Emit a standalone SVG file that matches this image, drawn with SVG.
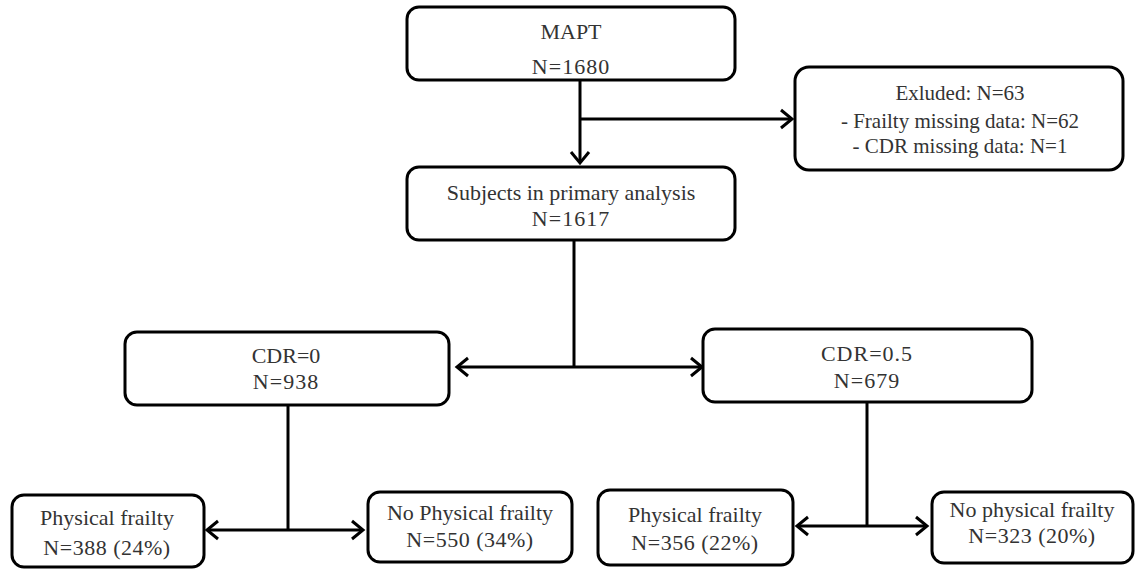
<svg xmlns="http://www.w3.org/2000/svg" width="1139" height="569" viewBox="0 0 1139 569">
<style>
.box{fill:#fff;stroke:#000;stroke-width:3}
.ln{fill:none;stroke:#000;stroke-width:3}
text{font-family:"Liberation Serif","Times New Roman",serif;font-size:22px;fill:#333;text-anchor:middle}
.sm{font-size:21px}
</style>
<defs>
<marker id="ah" markerUnits="userSpaceOnUse" markerWidth="16" markerHeight="22" refX="13" refY="11" orient="auto-start-reverse" viewBox="0 0 16 22">
<path d="M2,2 L13,11 L2,20" fill="none" stroke="#000" stroke-width="3"/>
</marker>
</defs>
<rect width="1139" height="569" fill="#fff"/>
<g id="connectors">
<path class="ln" d="M580,80 V163" marker-end="url(#ah)"/>
<path class="ln" d="M580,119 H792" marker-end="url(#ah)"/>
<path class="ln" d="M574,240 V367"/>
<path class="ln" d="M457,367 H702" marker-start="url(#ah)" marker-end="url(#ah)"/>
<path class="ln" d="M288,405 V530"/>
<path class="ln" d="M207,530 H363" marker-start="url(#ah)" marker-end="url(#ah)"/>
<path class="ln" d="M867,402 V526"/>
<path class="ln" d="M797,526 H927" marker-start="url(#ah)" marker-end="url(#ah)"/>
</g>
<g id="mapt">
<rect class="box" x="407" y="7" width="328" height="73" rx="12"/>
<text x="571" y="39">MAPT</text>
<text x="571" y="74" letter-spacing="1">N=1680</text>
</g>
<g id="excluded">
<rect class="box" x="795" y="67" width="328" height="103" rx="14"/>
<text class="sm" x="960" y="100">Exluded: N=63</text>
<text class="sm" x="960" y="128">- Frailty missing data: N=62</text>
<text class="sm" x="960" y="153">- CDR missing data: N=1</text>
</g>
<g id="subjects">
<rect class="box" x="407" y="167" width="328" height="73" rx="12"/>
<text x="571" y="200">Subjects in primary analysis</text>
<text x="571" y="226" letter-spacing="1">N=1617</text>
</g>
<g id="cdr0">
<rect class="box" x="125" y="332" width="324" height="73" rx="12"/>
<text x="286" y="363">CDR=0</text>
<text x="286" y="389" letter-spacing="1">N=938</text>
</g>
<g id="cdr05">
<rect class="box" x="703" y="329" width="329" height="73" rx="12"/>
<text x="867" y="361" letter-spacing="1">CDR=0.5</text>
<text x="867" y="388" letter-spacing="1">N=679</text>
</g>
<g id="pf-left">
<rect class="box" x="12" y="495" width="192" height="72" rx="12"/>
<text x="107" y="525">Physical frailty</text>
<text x="107" y="555" letter-spacing="0.5">N=388 (24%)</text>
</g>
<g id="npf-left">
<rect class="box" x="368" y="492" width="204" height="70" rx="12"/>
<text x="470" y="520">No Physical frailty</text>
<text x="470" y="547" letter-spacing="0.5">N=550 (34%)</text>
</g>
<g id="pf-right">
<rect class="box" x="598" y="490" width="195" height="75" rx="12"/>
<text x="695" y="522">Physical frailty</text>
<text x="695" y="550" letter-spacing="0.5">N=356 (22%)</text>
</g>
<g id="npf-right">
<rect class="box" x="932" y="492" width="201" height="71" rx="12"/>
<text x="1032" y="517">No physical frailty</text>
<text x="1032" y="543" letter-spacing="0.5">N=323 (20%)</text>
</g>
</svg>
